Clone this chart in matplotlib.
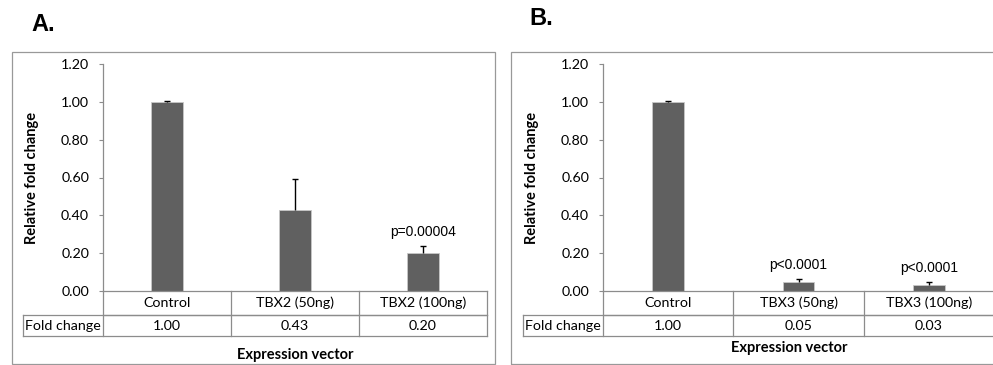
import matplotlib.pyplot as plt
from matplotlib import transforms
from matplotlib.patches import Rectangle

# data
cats_a = ['Control', 'TBX2 (50ng)', 'TBX2 (100ng)']
vals_a = [1.00, 0.43, 0.20]
errs_a = [0.003, 0.16, 0.04]
pvals_a = ['', '', 'p=0.00004']

cats_b = ['Control', 'TBX3 (50ng)', 'TBX3 (100ng)']
vals_b = [1.00, 0.05, 0.03]
errs_b = [0.003, 0.015, 0.02]
pvals_b = ['', 'p<0.0001', 'p<0.0001']

yticks = [0.0, 0.2, 0.4, 0.6, 0.8, 1.0, 1.2]

W, H = 993, 365
GRID = '#8c8c8c'
LFONT = 'Lato'
AFONT = 'Liberation Sans'
FS = 10.3


def px(x0, y0, x1, y1):
    """ pixel box (top-left origin) -> figure fraction rect """
    return [x0 / W, 1 - y1 / H, (x1 - x0) / W, (y1 - y0) / H]


def panel(fig, box, frame, cats, vals, errs, pvals, letter, letter_xy, xlab_xy, ylab_x):
    ax = fig.add_axes(px(*box))
    n = len(cats)
    xs = list(range(n))
    ax.bar(xs, vals, width=0.245, color='#606060', edgecolor='#c8c8c8', linewidth=0.6, zorder=2)
    # plus-only error bars, like excel
    _, caps, _ = ax.errorbar(xs, vals, yerr=[[0] * n, errs], fmt='none', ecolor='black',
                             elinewidth=1.0, capsize=2, capthick=1.0, zorder=3)
    if len(caps) == 2:
        caps[0].set_visible(False)
    for x, v, e, p in zip(xs, vals, errs, pvals):
        if p:
            ax.annotate(p, (x, v + e), xytext=(0, 10), textcoords='offset points',
                        ha='center', va='center', fontsize=10, family=AFONT)

    ax.set_xlim(-0.5, n - 0.5)
    ax.set_ylim(0, 1.2)
    ax.set_yticks(yticks)
    ax.set_yticklabels(['%.2f' % t for t in yticks], family=LFONT, fontsize=FS)
    ax.tick_params(axis='y', direction='out', length=3, width=0.8, color=GRID, pad=7)
    ax.set_xticks([])
    for s in ['top', 'right']:
        ax.spines[s].set_visible(False)
    for s in ['left', 'bottom']:
        ax.spines[s].set_color(GRID)
        ax.spines[s].set_linewidth(0.9)
    ax.set_ylabel('Relative fold change', family=LFONT, fontweight='bold', fontsize=10.5)
    ax.yaxis.set_label_coords(ylab_x, 0.5)

    # data table under the axis
    hpx = box[3] - box[1]
    r1 = -24 / hpx
    r2 = -45 / hpx
    left = -80 / (box[2] - box[0])
    tr = transforms.blended_transform_factory(ax.transData, ax.transAxes)
    kw = dict(color=GRID, lw=0.9, clip_on=False)
    for xv in [x - 0.5 for x in xs] + [n - 0.5]:
        ax.plot([xv, xv], [0, r2], transform=tr, **kw)
    ax.plot([-0.5, n - 0.5], [r1, r1], transform=tr, **kw)
    ax.plot([left, 1], [r1, r1], transform=ax.transAxes, **kw)
    ax.plot([left, 1], [r2, r2], transform=ax.transAxes, **kw)
    ax.plot([left, left], [r1, r2], transform=ax.transAxes, **kw)
    for x, c, v in zip(xs, cats, vals):
        ax.text(x, r1 / 2, c, transform=tr, ha='center', va='center', fontsize=FS, family=LFONT)
        ax.text(x, (r1 + r2) / 2, '%.2f' % v, transform=tr, ha='center', va='center',
                fontsize=FS, family=LFONT)
    ax.text(left + 0.004, (r1 + r2) / 2, 'Fold change', transform=ax.transAxes,
            ha='left', va='center', fontsize=FS, family=LFONT)

    fig.text(xlab_xy[0] / W, 1 - xlab_xy[1] / H, 'Expression vector', ha='center', va='center',
             fontsize=10.5, fontweight='bold', family=LFONT)
    fig.text(letter_xy[0] / W, 1 - letter_xy[1] / H, letter, ha='left', va='baseline',
             fontsize=17, fontweight='bold', family=AFONT)
    fig.patches.append(Rectangle((frame[0] / W, 1 - frame[3] / H), (frame[2] - frame[0]) / W,
                                 (frame[3] - frame[1]) / H, transform=fig.transFigure,
                                 fill=False, edgecolor='#999999', lw=0.9))
    return ax


fig = plt.figure(figsize=(W / 100, H / 100), dpi=100, facecolor='w')
panel(fig, (103, 64, 487, 291), (12, 52, 495, 364), cats_a, vals_a, errs_a, pvals_a,
      'A.', (31, 31), (295, 355), -0.167)
panel(fig, (603, 64, 994, 291), (511, 52, 1000, 364), cats_b, vals_b, errs_b, pvals_b,
      'B.', (529, 25), (789, 348), -0.164)
fig.savefig('out.png', dpi=100, facecolor='w')
plt.close()
